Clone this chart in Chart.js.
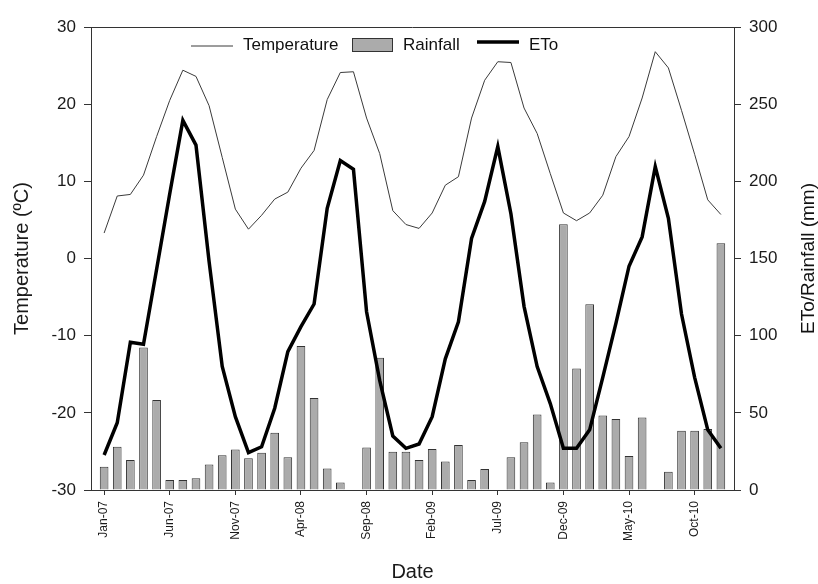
<!DOCTYPE html>
<html lang="en">
<head>
	<meta charset="UTF-8">
	<title>Temperature, Rainfall and ETo</title>
	<script src="https://cdn.jsdelivr.net/npm/chart.js"></script>
	<style>
		body { margin: 0; background: #fff; }
		#wrap { width: 818px; height: 584px; }
	</style>
</head>
<body>
	<div id="wrap">
		<canvas id="chart"></canvas>
	</div>
	<script>
		const months = [
			'Jan-07','Feb-07','Mar-07','Apr-07','May-07','Jun-07','Jul-07','Aug-07','Sep-07','Oct-07','Nov-07','Dec-07',
			'Jan-08','Feb-08','Mar-08','Apr-08','May-08','Jun-08','Jul-08','Aug-08','Sep-08','Oct-08','Nov-08','Dec-08',
			'Jan-09','Feb-09','Mar-09','Apr-09','May-09','Jun-09','Jul-09','Aug-09','Sep-09','Oct-09','Nov-09','Dec-09',
			'Jan-10','Feb-10','Mar-10','Apr-10','May-10','Jun-10','Jul-10','Aug-10','Sep-10','Oct-10','Nov-10','Dec-10'
		];
		// monthly mean temperature (ºC)
		const temperature = [
			3.3, 8.1, 8.3, 10.8, 15.8, 20.5, 24.4, 23.6, 19.8, 13.1, 6.4, 3.8,
			5.6, 7.7, 8.6, 11.7, 14.0, 20.6, 24.1, 24.2, 18.2, 13.6, 6.2, 4.4,
			3.9, 5.9, 9.5, 10.6, 18.2, 23.1, 25.5, 25.4, 19.5, 16.2, 11.0, 5.9,
			4.9, 5.9, 8.2, 13.2, 15.8, 20.8, 26.8, 24.7, 19.2, 13.5, 7.6, 5.7
		];
		// monthly rainfall (mm)
		const rainfall = [
			15.1, 28.1, 19.4, 92.4, 58.3, 6.5, 6.5, 7.6, 16.6, 22.5, 26.3, 20.5,
			24.2, 37.1, 21.2, 93.3, 59.6, 14.0, 4.8, 0, 27.6, 85.7, 24.8, 24.8,
			19.4, 26.6, 18.4, 29.2, 6.5, 13.6, 0, 21.2, 30.9, 49.0, 4.8, 172.2,
			78.8, 120.3, 48.2, 46.0, 22.0, 46.9, 0, 11.9, 38.4, 38.4, 39.5, 159.9
		];
		// monthly reference evapotranspiration (mm)
		const eto = [
			22.7, 43.6, 95.7, 94.4, 143, 192, 239.5, 223.5, 148, 80, 47.5, 24.2,
			28, 53, 89.6, 105.8, 120.5, 182.5, 213.4, 207.8, 115.5, 71, 35, 27,
			29.8, 47.5, 85, 109, 163, 187, 222.5, 179, 119, 80, 56, 27,
			27, 39, 73, 108, 145, 164, 209.5, 176, 114, 73, 39, 27
		];
		const tempTicks = [-30, -20, -10, 0, 10, 20, 30];
		const mmTicks = [0, 50, 100, 150, 200, 250, 300];
		const labelEvery = 5;

		const FONT = '"Liberation Sans", Arial, sans-serif';
		Chart.defaults.font.family = FONT;
		Chart.defaults.color = '#1a1a1a';

		// one empty month on each side of the series
		const pad = arr => [null, ...arr, null];
		const labels = ['', ...months, ''];

		const axisColor = '#333';

		const frameAndKey = {
			id: 'frameAndKey',
			afterDraw(chart) {
				const { ctx, chartArea: a } = chart;
				ctx.save();
				ctx.strokeStyle = axisColor;
				ctx.lineWidth = 1;
				ctx.beginPath();
				ctx.moveTo(a.left, a.top + 0.5);
				ctx.lineTo(a.right, a.top + 0.5);
				ctx.stroke();

				// key, drawn inside the plot
				const ds = chart.data.datasets;
				const x0 = a.left;
				const y = a.top + 18;
				ctx.font = '17px ' + FONT;
				ctx.fillStyle = '#111';
				ctx.textBaseline = 'middle';
				ctx.textAlign = 'left';

				ctx.strokeStyle = ds[0].borderColor;
				ctx.lineWidth = ds[0].borderWidth;
				ctx.beginPath();
				ctx.moveTo(x0 + 100, y + 1);
				ctx.lineTo(x0 + 142, y + 1);
				ctx.stroke();
				ctx.fillText(ds[0].label, x0 + 152, y);

				ctx.fillStyle = ds[1].backgroundColor;
				ctx.fillRect(x0 + 261, y - 7, 40, 13);
				ctx.strokeStyle = ds[1].borderColor;
				ctx.lineWidth = 1;
				ctx.strokeRect(x0 + 261.5, y - 6.5, 40, 13);
				ctx.fillStyle = '#111';
				ctx.fillText(ds[1].label, x0 + 312, y);

				ctx.strokeStyle = ds[2].borderColor;
				ctx.lineWidth = ds[2].borderWidth;
				ctx.beginPath();
				ctx.moveTo(x0 + 386, y - 3);
				ctx.lineTo(x0 + 428, y - 3);
				ctx.stroke();
				ctx.fillText(ds[2].label, x0 + 438, y);

				// right axis title, reading upwards
				ctx.translate(809, (a.top + a.bottom) / 2);
				ctx.rotate(-Math.PI / 2);
				ctx.textAlign = 'center';
				ctx.font = '19px ' + FONT;
				ctx.fillText('ETo/Rainfall (mm)', 0, 0);
				ctx.restore();
			}
		};

		const ctx = document.getElementById('chart');
		new Chart(ctx, {
			type: 'bar',
			data: {
				labels: labels,
				datasets: [{
					type: 'line',
					label: 'Temperature',
					data: pad(temperature),
					yAxisID: 'yT',
					borderColor: '#3a3a3a',
					borderWidth: 1,
					pointRadius: 0,
					tension: 0,
					order: 2
				}, {
					type: 'bar',
					label: 'Rainfall',
					data: pad(rainfall),
					yAxisID: 'yR',
					backgroundColor: '#ababab',
					borderColor: '#333',
					borderWidth: 1,
					categoryPercentage: 1,
					barPercentage: 0.66,
					order: 3
				}, {
					type: 'line',
					label: 'ETo',
					data: pad(eto),
					yAxisID: 'yR',
					borderColor: '#000',
					borderWidth: 3.5,
					pointRadius: 0,
					tension: 0,
					order: 1
				}]
			},
			options: {
				responsive: true,
				maintainAspectRatio: false,
				animation: false,
				layout: { padding: { top: 27, left: 0, right: 0, bottom: 0 } },
				plugins: {
					legend: { display: false },
					tooltip: { enabled: false }
				},
				scales: {
					x: {
						type: 'category',
						offset: false,
						grid: { display: true, offset: false, drawOnChartArea: false, tickLength: 5, color: axisColor },
						border: { display: true, color: axisColor },
						ticks: {
							autoSkip: false,
							maxRotation: 90,
							minRotation: 90,
							padding: 6,
							font: { size: 12 },
							callback: function (value, index) {
								const m = index - 1;
								return (m >= 0 && m < months.length && m % labelEvery === 0) ? months[m] : null;
							}
						},
						title: { display: true, text: 'Date', font: { size: 20 }, padding: { top: 0, bottom: 0 } },
						afterFit(scale) { scale.height = 94; }
					},
					yT: {
						type: 'linear',
						position: 'left',
						min: tempTicks[0],
						max: tempTicks[tempTicks.length - 1],
						afterBuildTicks(scale) { scale.ticks = tempTicks.map(v => ({ value: v })); },
						grid: { drawOnChartArea: false, tickLength: 7, color: axisColor },
						border: { display: true, color: axisColor },
						ticks: { font: { size: 17 }, padding: 8 },
						title: { display: true, text: 'Temperature (ºC)', font: { size: 20 }, padding: { top: 10, bottom: 0 } },
						afterFit(scale) { scale.width = 91; }
					},
					yR: {
						type: 'linear',
						position: 'right',
						min: mmTicks[0],
						max: mmTicks[mmTicks.length - 1],
						afterBuildTicks(scale) { scale.ticks = mmTicks.map(v => ({ value: v })); },
						grid: { drawOnChartArea: false, tickLength: 7, color: axisColor },
						border: { display: true, color: axisColor },
						ticks: { font: { size: 17 }, padding: 8 },
						afterFit(scale) { scale.width = 84; }
					}
				}
			},
			plugins: [frameAndKey]
		});
	</script>
</body>
</html>
